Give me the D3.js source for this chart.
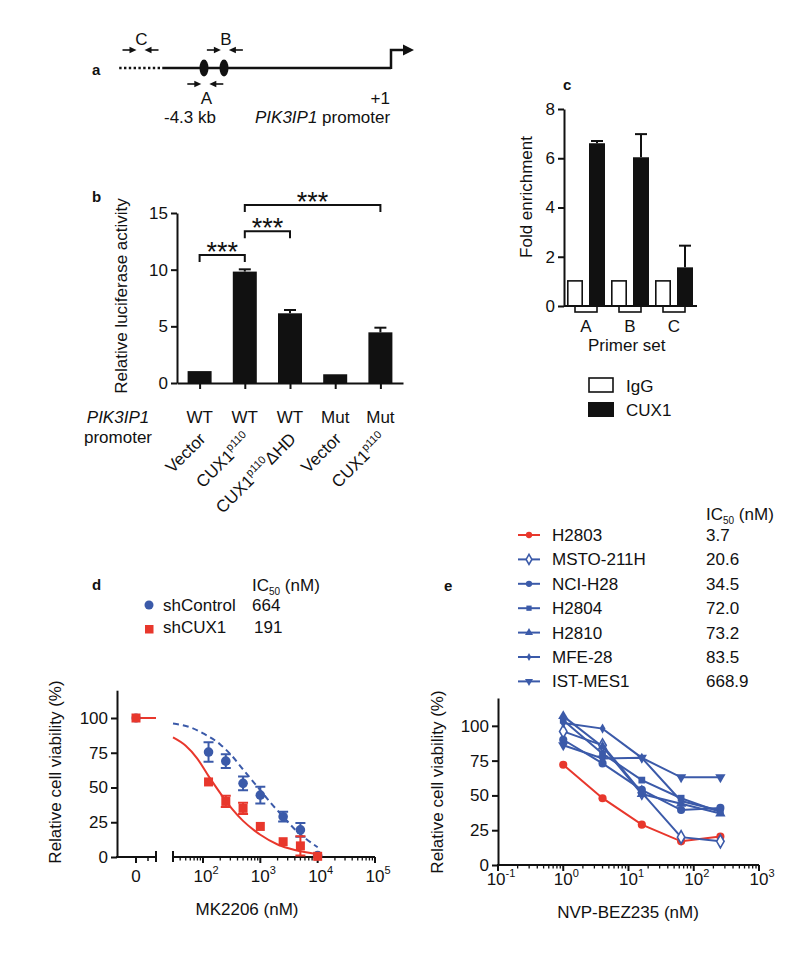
<!DOCTYPE html>
<html><head><meta charset="utf-8">
<script src="https://cdn.jsdelivr.net/npm/d3@7"></script>
<style>
body{margin:0;background:#fff}
svg{display:block}
text{font-family:"Liberation Sans",Arial,Helvetica,sans-serif;fill:#111}
</style>
</head><body>
<svg id="fig" width="800" height="954"></svg>
<script>
// ---------------- DATA ----------------
// panel a (schematic, positions in kb relative to +1)
const aSites = [-4.3, -3.84];
const aPrimers = [
  {name: "C", kb: -5.76, side: "above"},
  {name: "B", kb: -3.82, side: "above"},
  {name: "A", kb: -4.27, side: "below"}
];
const aDottedStart = -6.25, aSolidStart = -5.26;

// panel b
const bPromoter = ["WT", "WT", "WT", "Mut", "Mut"];
const bConstruct = [
  {main: "Vector", sup: "", tail: ""},
  {main: "CUX1", sup: "p110", tail: ""},
  {main: "CUX1", sup: "p110", tail: "\u0394HD"},
  {main: "Vector", sup: "", tail: ""},
  {main: "CUX1", sup: "p110", tail: ""}
];
const bValues = [1.05, 9.83, 6.15, 0.77, 4.47];
const bErrors = [0.0, 0.2, 0.29, 0.0, 0.41];
const bTicks = [0, 5, 10, 15];
const bBrackets = [
  {from: 0, to: 1, level: 11.3, label: "***"},
  {from: 1, to: 2, level: 13.4, label: "***"},
  {from: 1, to: 4, level: 15.7, label: "***"}
];

// panel c
const cGroups = ["A", "B", "C"];
const cIgG = [1.02, 1.02, 1.02];
const cCUX1 = [6.61, 6.04, 1.57];
const cCUX1Err = [0.09, 0.94, 0.88];
const cTicks = [0, 2, 4, 6, 8];

// panel d
const dDoses = [125, 250, 500, 1000, 2500, 5000, 10000];
const dCtrl = [75.5, 69, 53, 44.5, 29, 19.5, 1];
const dCtrlErr = [7, 5, 5, 6, 3.5, 5, 0];
const dCux = [54, 40, 35, 22, 11, 8, 0.5];
const dCuxErr = [0, 4, 4, 0, 0, 7, 0];
const dZeroCtrl = 100, dZeroCux = 100;
const dCtrlFitX = [30, 63, 100, 200, 316, 500, 794, 1000, 1585, 2512, 3981, 6310, 10000];
const dCtrlFitY = [96, 93, 89, 81, 73, 63, 53, 48, 38, 29, 20, 13, 7];
const dCuxFitX = [30, 50, 79, 126, 200, 316, 500, 794, 1000, 2000, 4000, 10000];
const dCuxFitY = [86, 80, 71, 58, 46, 35, 26, 19, 16, 9, 5, 2];
const dYTicks = [0, 25, 50, 75, 100];
const dXTicks = [100, 1000, 10000, 100000];
const dLegend = [
  {name: "shControl", ic50: "664"},
  {name: "shCUX1", ic50: "191"}
];

// panel e
const eDoses = [1, 4, 16, 64, 256];
const eNames = ["H2803", "MSTO-211H", "NCI-H28", "H2804", "H2810", "MFE-28", "IST-MES1"];
const eIC50 = ["3.7", "20.6", "34.5", "72.0", "73.2", "83.5", "668.9"];
const eMarkers = ["circle", "diamondOpen", "circle", "square", "triangle", "diamondSmall", "triangleDown"];
const eValues = [
  [72, 48, 29, 17, 20.4],
  [96, 86, 52, 20, 17],
  [90, 73, 54, 39.5, 41],
  [104, 80, 61, 48, 38],
  [107, 85, 51, 44, 37],
  [102, 98, 77, 46, 39],
  [86, 76.5, 77, 63, 63]
];
const eYTicks = [0, 25, 50, 75, 100];
const eXTicks = [0.1, 1, 10, 100, 1000];

// ---------------- DRAW ----------------
const FS = 17;
const BLUE = "#3b5aa9", RED = "#e8372c", INK = "#111";
const eColors = [RED, BLUE, BLUE, BLUE, BLUE, BLUE, BLUE];
const svg = d3.select("#fig");
svg.append("rect").attr("width", 800).attr("height", 954).attr("fill", "#fff");

function label(t, x, y) {
  svg.append("text").attr("x", x).attr("y", y).attr("font-size", 15)
    .attr("font-weight", "bold").text(t);
}
function txt(g, t, x, y, anchor, size) {
  return g.append("text").attr("x", x).attr("y", y).attr("text-anchor", anchor || "start")
    .attr("font-size", size || FS).text(t);
}
function ic50Header(x, y) {
  const t = svg.append("text").attr("x", x).attr("y", y).attr("font-size", FS);
  t.append("tspan").text("IC");
  t.append("tspan").attr("font-size", 10).attr("dy", 4).text("50");
  t.append("tspan").attr("dy", -4).text(" (nM)");
}
function styleAxis(g) {
  g.selectAll("path,line").attr("stroke", INK).attr("stroke-width", 2);
  g.selectAll("text").attr("font-size", FS).attr("fill", INK)
    .style("font-family", '"Liberation Sans",Arial,sans-serif');
}
function hArrow(g, x1, x2, y) {
  const dir = x2 > x1 ? 1 : -1;
  g.append("line").attr("x1", x1).attr("x2", x2 - dir * 5).attr("y1", y).attr("y2", y)
    .attr("stroke", INK).attr("stroke-width", 1.6);
  g.append("path").attr("d", `M${x2},${y} L${x2 - dir * 7},${y - 3.2} L${x2 - dir * 7},${y + 3.2} Z`)
    .attr("fill", INK);
}

// ===== Panel a =====
label("a", 92, 75);
{
  const g = svg.append("g");
  const ax = d3.scaleLinear().domain([-4.3, 0]).range([204, 391]);
  const y = 68;
  g.append("line").attr("x1", ax(aDottedStart)).attr("x2", ax(aSolidStart)).attr("y1", y).attr("y2", y)
    .attr("stroke", INK).attr("stroke-width", 2.5).attr("stroke-dasharray", "2.4,2.4");
  g.append("line").attr("x1", ax(aSolidStart)).attr("x2", ax(0)).attr("y1", y).attr("y2", y)
    .attr("stroke", INK).attr("stroke-width", 2.5);
  g.append("path").attr("d", `M${ax(0)},${y + 1} V50 H404`).attr("fill", "none")
    .attr("stroke", INK).attr("stroke-width", 2.5);
  g.append("path").attr("d", `M414,50 L403,44.5 L403,55.5 Z`).attr("fill", INK);
  aSites.forEach(s => g.append("ellipse").attr("cx", ax(s)).attr("cy", y).attr("rx", 4.5).attr("ry", 8.5).attr("fill", INK));
  aPrimers.forEach(p => {
    const c = ax(p.kb);
    const ay = p.side === "above" ? 50 : 84;
    hArrow(g, c - 18, c - 4, ay);
    hArrow(g, c + 18, c + 4, ay);
    txt(g, p.name, c + 1, p.side === "above" ? 45 : 104, "middle", FS);
  });
  txt(g, "+1", 390, 104, "end", FS);
  txt(g, "-4.3 kb", 190, 123, "middle", FS);
  const t = g.append("text").attr("x", 255).attr("y", 123).attr("font-size", FS);
  t.append("tspan").attr("font-style", "italic").text("PIK3IP1");
  t.append("tspan").text(" promoter");
}

// ===== Panel b =====
label("b", 92, 202);
{
  const g = svg.append("g");
  const bx = d3.scalePoint().domain(d3.range(bValues.length)).range([177, 403]).padding(0.5);
  const by = d3.scaleLinear().domain([0, 15]).range([383, 213]);
  const bw = 24;
  g.selectAll("rect.bar").data(bValues).join("rect")
    .attr("x", (d, i) => bx(i) - bw / 2).attr("y", d => by(d))
    .attr("width", bw).attr("height", d => by(0) - by(d)).attr("fill", INK);
  bValues.forEach((v, i) => {
    if (bErrors[i] > 0) {
      g.append("line").attr("x1", bx(i)).attr("x2", bx(i)).attr("y1", by(v)).attr("y2", by(v + bErrors[i]))
        .attr("stroke", INK).attr("stroke-width", 2);
      g.append("line").attr("x1", bx(i) - 6).attr("x2", bx(i) + 6).attr("y1", by(v + bErrors[i])).attr("y2", by(v + bErrors[i]))
        .attr("stroke", INK).attr("stroke-width", 2);
    }
  });
  const yAx = g.append("g").attr("transform", "translate(177,0)")
    .call(d3.axisLeft(by).tickValues(bTicks).tickSize(6).tickSizeOuter(0).tickPadding(3));
  styleAxis(yAx);
  const xAx = g.append("g").attr("transform", "translate(0,383)")
    .call(d3.axisBottom(bx).tickSize(6).tickSizeOuter(0).tickFormat(""));
  styleAxis(xAx);
  // brackets
  bBrackets.forEach(b => {
    const yy = by(b.level), x1 = bx(b.from), x2 = bx(b.to);
    g.append("path").attr("d", `M${x1},${yy + 7} V${yy} H${x2} V${yy + 7}`)
      .attr("fill", "none").attr("stroke", INK).attr("stroke-width", 2);
    g.append("text").attr("x", (x1 + x2) / 2).attr("y", yy + 6).attr("text-anchor", "middle")
      .attr("font-size", 27).text(b.label);
  });
  // category labels
  bPromoter.forEach((p, i) => txt(g, p, bx(i), 423, "middle", FS));
  g.append("text").attr("x", 118).attr("y", 423).attr("text-anchor", "middle")
    .attr("font-size", FS).attr("font-style", "italic").text("PIK3IP1");
  txt(g, "promoter", 118, 443, "middle", FS);
  bConstruct.forEach((c, i) => {
    const t = g.append("text").attr("text-anchor", "end").attr("font-size", FS)
      .attr("transform", `translate(${bx(i) + 7},${440}) rotate(-45)`);
    t.append("tspan").text(c.main);
    if (c.sup) t.append("tspan").attr("font-size", 11).attr("dy", -7).text(c.sup);
    if (c.tail) t.append("tspan").attr("dy", 7).text(c.tail);
  });
  g.append("text").attr("font-size", FS).attr("text-anchor", "middle")
    .attr("transform", "translate(127,296) rotate(-90)").text("Relative luciferase activity");
}

// ===== Panel c =====
label("c", 563, 90);
{
  const g = svg.append("g");
  const cx0 = d3.scaleBand().domain(cGroups).range([564, 696]);
  const cy = d3.scaleLinear().domain([0, 8]).range([306, 109]);
  const cw = 16;
  cGroups.forEach((grp, i) => {
    const c = cx0(grp) + cx0.bandwidth() / 2;
    g.append("rect").attr("x", c - 11).attr("y", 306).attr("width", 22).attr("height", 6)
      .attr("fill", "#fff").attr("stroke", INK).attr("stroke-width", 1.6);
    g.append("rect").attr("x", c - 19 + 0.8).attr("y", cy(cIgG[i])).attr("width", cw - 1.6)
      .attr("height", cy(0) - cy(cIgG[i])).attr("fill", "#fff").attr("stroke", INK).attr("stroke-width", 1.6);
    g.append("rect").attr("x", c + 3).attr("y", cy(cCUX1[i])).attr("width", cw)
      .attr("height", cy(0) - cy(cCUX1[i])).attr("fill", INK);
    const top = cy(cCUX1[i] + cCUX1Err[i]);
    g.append("line").attr("x1", c + 11).attr("x2", c + 11).attr("y1", cy(cCUX1[i])).attr("y2", top)
      .attr("stroke", INK).attr("stroke-width", 2);
    g.append("line").attr("x1", c + 11 - 6).attr("x2", c + 11 + 6).attr("y1", top).attr("y2", top)
      .attr("stroke", INK).attr("stroke-width", 2);
    txt(g, grp, c, 332, "middle", FS);
  });
  g.append("line").attr("x1", 564).attr("x2", 697).attr("y1", 306).attr("y2", 306)
    .attr("stroke", INK).attr("stroke-width", 2);
  const yAx = g.append("g").attr("transform", "translate(564,0)")
    .call(d3.axisLeft(cy).tickValues(cTicks).tickSize(6).tickSizeOuter(0).tickPadding(3));
  styleAxis(yAx);
  txt(g, "Primer set", 588, 351, "start", FS);
  g.append("text").attr("font-size", FS).attr("text-anchor", "middle")
    .attr("transform", "translate(532,197) rotate(-90)").text("Fold enrichment");
  g.append("rect").attr("x", 589).attr("y", 378).attr("width", 24).attr("height", 14)
    .attr("fill", "#fff").attr("stroke", INK).attr("stroke-width", 1.6);
  g.append("rect").attr("x", 588).attr("y", 402).attr("width", 26).attr("height", 15).attr("fill", INK);
  txt(g, "IgG", 626, 392, "start", FS);
  txt(g, "CUX1", 626, 416, "start", FS);
}

function supLabel(g, base, exp, x, y) {
  const t = g.append("text").attr("x", x).attr("y", y).attr("text-anchor", "middle").attr("font-size", FS);
  t.append("tspan").text(base);
  t.append("tspan").attr("font-size", 11).attr("dy", -8).text(exp);
}

// ===== Panel d =====
label("d", 92, 590);
{
  const g = svg.append("g");
  const dy = d3.scaleLinear().domain([0, 120]).range([857, 690.2]);
  const dxZero = d3.scalePoint().domain(["0"]).range([136, 136]);
  const dx = d3.scaleLog().domain([30, 100000]).range([173, 375]);
  // legend
  ic50Header(252, 591);
  g.append("circle").attr("cx", 149).attr("cy", 605).attr("r", 4.5).attr("fill", BLUE);
  g.append("rect").attr("x", 145).attr("y", 625).attr("width", 8.5).attr("height", 8.5).attr("fill", RED);
  txt(g, dLegend[0].name, 163, 611, "start", FS);
  txt(g, dLegend[0].ic50, 252, 611, "start", FS);
  txt(g, dLegend[1].name, 163, 633, "start", FS);
  txt(g, dLegend[1].ic50, 254, 633, "start", FS);
  // axes
  const yAx = g.append("g").attr("transform", "translate(117,0)")
    .call(d3.axisLeft(dy).tickValues(dYTicks).tickSize(6).tickSizeOuter(0).tickPadding(3));
  styleAxis(yAx);
  g.append("line").attr("x1", 116).attr("x2", 156).attr("y1", 857).attr("y2", 857).attr("stroke", INK).attr("stroke-width", 2);
  g.append("line").attr("x1", dxZero("0")).attr("x2", dxZero("0")).attr("y1", 857).attr("y2", 863).attr("stroke", INK).attr("stroke-width", 2);
  g.append("line").attr("x1", 148).attr("x2", 148).attr("y1", 857).attr("y2", 861).attr("stroke", INK).attr("stroke-width", 1.5);
  [156, 173].forEach(xb => g.append("line").attr("x1", xb).attr("x2", xb).attr("y1", 851).attr("y2", 862).attr("stroke", INK).attr("stroke-width", 2));
  g.append("line").attr("x1", 173).attr("x2", 375).attr("y1", 857).attr("y2", 857).attr("stroke", INK).attr("stroke-width", 2);
  const minors = [];
  [10, 100, 1000, 10000].forEach(dec => { for (let k = 2; k <= 9; k++) { const v = dec * k; if (v > 30 && v < 100000) minors.push(v); } });
  minors.forEach(v => g.append("line").attr("x1", dx(v)).attr("x2", dx(v)).attr("y1", 857).attr("y2", 860.5).attr("stroke", INK).attr("stroke-width", 1.3));
  dXTicks.forEach(v => {
    g.append("line").attr("x1", dx(v)).attr("x2", dx(v)).attr("y1", 857).attr("y2", 863).attr("stroke", INK).attr("stroke-width", 2);
    supLabel(g, "10", String(Math.round(Math.log10(v))), dx(v) + 3, 882);
  });
  txt(g, "0", dxZero("0"), 882, "middle", FS);
  txt(g, "MK2206 (nM)", 247, 915, "middle", FS);
  g.append("text").attr("font-size", FS).attr("text-anchor", "middle")
    .attr("transform", "translate(61,772) rotate(-90)").text("Relative cell viability (%)");
  // fits
  const line = d3.line().x(d => dx(d[0])).y(d => dy(d[1])).curve(d3.curveMonotoneX);
  g.append("path").attr("d", line(dCtrlFitX.map((x, i) => [x, dCtrlFitY[i]])))
    .attr("fill", "none").attr("stroke", BLUE).attr("stroke-width", 2).attr("stroke-dasharray", "6,4");
  g.append("path").attr("d", line(dCuxFitX.map((x, i) => [x, dCuxFitY[i]])))
    .attr("fill", "none").attr("stroke", RED).attr("stroke-width", 2);
  g.append("line").attr("x1", dxZero("0")).attr("x2", 156).attr("y1", dy(dZeroCux)).attr("y2", dy(dZeroCux))
    .attr("stroke", RED).attr("stroke-width", 2);
  // control points
  g.append("circle").attr("cx", dxZero("0")).attr("cy", dy(dZeroCtrl)).attr("r", 4.5).attr("fill", BLUE);
  dDoses.forEach((d, i) => {
    const x = dx(d);
    if (dCtrlErr[i] > 0) {
      const y1 = dy(dCtrl[i] - dCtrlErr[i]), y2 = dy(dCtrl[i] + dCtrlErr[i]);
      g.append("path").attr("d", `M${x - 5},${y1} H${x + 5} M${x},${y1} V${y2} M${x - 5},${y2} H${x + 5}`)
        .attr("stroke", BLUE).attr("stroke-width", 2).attr("fill", "none");
    }
    g.append("circle").attr("cx", x).attr("cy", dy(dCtrl[i])).attr("r", 4.8).attr("fill", BLUE);
  });
  dDoses.forEach((d, i) => {
    const x = dx(d);
    if (dCuxErr[i] > 0) {
      const y1 = dy(dCux[i] - dCuxErr[i]), y2 = dy(dCux[i] + dCuxErr[i]);
      g.append("path").attr("d", `M${x - 5},${y1} H${x + 5} M${x},${y1} V${y2} M${x - 5},${y2} H${x + 5}`)
        .attr("stroke", RED).attr("stroke-width", 2).attr("fill", "none");
    }
    g.append("rect").attr("x", x - 4.5).attr("y", dy(dCux[i]) - 4.5).attr("width", 9).attr("height", 9).attr("fill", RED);
  });
  g.append("rect").attr("x", dxZero("0") - 4.5).attr("y", dy(dZeroCux) - 4.5).attr("width", 9).attr("height", 9).attr("fill", RED);
}

// ===== Panel e =====
label("e", 444, 591);
function markerPath(type, scale) {
  const m = {
    circle: [d3.symbolCircle, 52],
    diamondOpen: [d3.symbolDiamond, 48],
    square: [d3.symbolSquare, 46],
    triangle: [d3.symbolTriangle, 46],
    triangleDown: [d3.symbolTriangle, 46],
    diamondSmall: [d3.symbolDiamond, 30]
  }[type];
  return d3.symbol().type(m[0]).size(m[1] * scale)();
}
function drawMarker(g, type, x, y, color, scale) {
  const p = g.append("path").attr("d", markerPath(type, scale || 1))
    .attr("transform", `translate(${x},${y})` + (type === "triangleDown" ? " rotate(180)" : ""));
  if (type === "diamondOpen") p.attr("fill", "#fff").attr("stroke", color).attr("stroke-width", 1.6);
  else p.attr("fill", color);
}
{
  const g = svg.append("g");
  const ey = d3.scaleLinear().domain([0, 120]).range([865, 698]);
  const ex = d3.scaleLog().domain([0.1, 1000]).range([498, 759]);
  // legend
  ic50Header(706, 520);
  eNames.forEach((n, i) => {
    const yy = 535 + i * 24.4;
    g.append("line").attr("x1", 518).attr("x2", 540).attr("y1", yy).attr("y2", yy)
      .attr("stroke", eColors[i]).attr("stroke-width", 2);
    drawMarker(g, eMarkers[i], 529, yy, eColors[i], 0.6);
    txt(g, n, 552, yy + 6, "start", FS);
    txt(g, eIC50[i], 706, yy + 6, "start", FS);
  });
  // axes
  const yAx = g.append("g").attr("transform", "translate(498,0)")
    .call(d3.axisLeft(ey).tickValues(eYTicks).tickSize(6).tickSizeOuter(0).tickPadding(3));
  styleAxis(yAx);
  g.append("line").attr("x1", 497).attr("x2", 759).attr("y1", 865).attr("y2", 865).attr("stroke", INK).attr("stroke-width", 2);
  [0.1, 1, 10, 100].forEach(dec => {
    for (let k = 2; k <= 9; k++) {
      const v = dec * k;
      g.append("line").attr("x1", ex(v)).attr("x2", ex(v)).attr("y1", 865).attr("y2", 868.5).attr("stroke", INK).attr("stroke-width", 1.3);
    }
  });
  eXTicks.forEach(v => {
    g.append("line").attr("x1", ex(v)).attr("x2", ex(v)).attr("y1", 865).attr("y2", 871).attr("stroke", INK).attr("stroke-width", 2);
    supLabel(g, "10", String(Math.round(Math.log10(v))), ex(v) + 3, 885);
  });
  txt(g, "NVP-BEZ235 (nM)", 628, 918, "middle", FS);
  g.append("text").attr("font-size", FS).attr("text-anchor", "middle")
    .attr("transform", "translate(443,782) rotate(-90)").text("Relative cell viability (%)");
  // series
  const line = d3.line().x((d, i) => ex(eDoses[i])).y(d => ey(d));
  eValues.forEach((vals, s) => {
    g.append("path").attr("d", line(vals)).attr("fill", "none")
      .attr("stroke", eColors[s]).attr("stroke-width", 2);
  });
  eValues.forEach((vals, s) => {
    vals.forEach((v, i) => drawMarker(g, eMarkers[s], ex(eDoses[i]), ey(v), eColors[s], 1));
  });
}
</script>
</body></html>
